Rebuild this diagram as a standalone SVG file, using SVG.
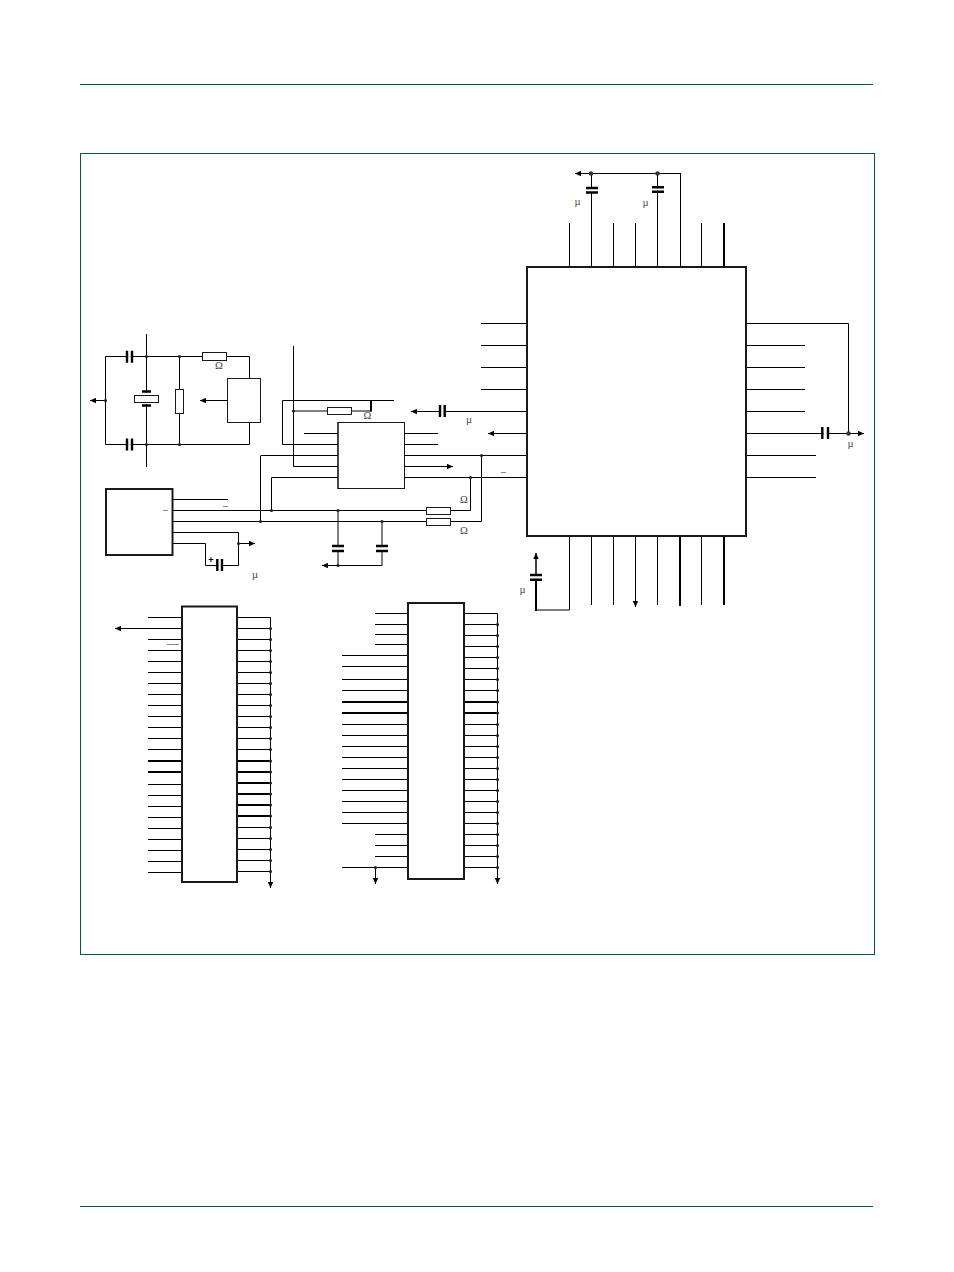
<svg xmlns="http://www.w3.org/2000/svg" width="954" height="1272" viewBox="0 0 954 1272">
<style>
.w{fill:none;stroke:#000;stroke-width:1}
.t{fill:none;stroke:#000;stroke-width:2}
.d{fill:none;stroke:#222;stroke-width:3.2;stroke-linecap:round}
.d2{fill:none;stroke:#333;stroke-width:4.500;stroke-linecap:round}
.b{fill:#fff;stroke:#1a1a1a;stroke-width:1}
.ic{fill:#fff;stroke:#1a1a1a;stroke-width:2}
.p{fill:none;stroke:#000;stroke-width:2.400}
.gap{fill:#fff;stroke:none}
.o{fill:none;stroke:#888;stroke-width:1}
.g{fill:none;stroke:#005a50;stroke-width:1}
text{font-family:"Liberation Serif","Times New Roman",serif;font-size:10.500px;fill:#444;text-anchor:middle}
</style>
<defs>
<marker id="a" markerUnits="userSpaceOnUse" markerWidth="7" markerHeight="6" refX="6" refY="3" orient="auto"><path d="M0 .3L6 3L0 5.700z" fill="#000"/></marker>
</defs>
<g id="page-frame">
<path class="g" d="M80 84.500H873M80 1206.500H873"/>
<rect class="g" x="80.500" y="153.500" width="794" height="801"/>
</g>
<g id="connectors">
<path class="w" d="M569.500 223V267M591.500 173V267M613.500 223V267M635.500 223V267M657.500 173V267M701.500 223V267M680.500 173V267M680.500 173.500H591"/>
<path class="w" marker-end="url(#a)" d="M591 173.500H575"/>
<path class="t" d="M724 223V267"/>
<path class="w" d="M481 323.500H527M481 345.500H527M481 367.500H527M481 389.500H527"/>
<path class="w" marker-end="url(#a)" d="M527 411.500H411"/>
<path class="w" marker-end="url(#a)" d="M527 433.500H488"/>
<path class="w" d="M404 455.500H527M404 477.500H527"/>
<path class="w" d="M746 323.500H848.500V433.500M746 345.500H805M746 367.500H805M746 389.500H805M746 411.500H805M746 455.500H816M746 477.500H816"/>
<path class="w" marker-end="url(#a)" d="M746 433.500H864"/>
<path class="w" d="M569.500 536V610H536.500M591.500 536V605M613.500 536V605M657.500 536V605M701.500 536V605"/>
<path class="w" marker-end="url(#a)" d="M635.500 536V607"/>
<path class="t" d="M680 536V606M724 536V605M536 611V580"/>
<path class="t" marker-end="url(#a)" d="M536 575V553" style="stroke-width:1.500"/>
<path class="w" d="M304 433.500H338M282.500 444.500H338M261 455.500H338M293.500 346V466.500H338M271.500 477.500H338M404 433.500H438M404 444.500H438"/>
<path class="w" d="M282.500 444.500V400.500H394M293.500 411H371"/>
<path class="t" d="M371 411.500V400"/>
<path class="w" marker-end="url(#a)" d="M404 466.500H453"/>
<path class="w" d="M260.500 455.500V521.500M271.500 477.500V510.500M173 510.500H470.500V477.500M173 521.500H481.500V455.500"/>
<path class="w" d="M338 510.500V565.500M382 521.500V565.500"/>
<path class="w" marker-end="url(#a)" d="M382 565.500H322"/>
<path class="w" d="M173 499.500H228M173 532.500H238.500V565.500H217M173 543.500H205.500V565.500H217"/>
<path class="w" marker-end="url(#a)" d="M238.500 543.500H255"/>
<path class="w" d="M105.500 356.500V444.500H249.500V422M105.500 356.500H249.500V378M146.500 334V467M179.500 356.500V444.500"/>
<path class="w" marker-end="url(#a)" d="M105.500 400.500H90"/>
<path class="w" marker-end="url(#a)" d="M227 400.500H200"/>
<path class="w" d="M148 617.500H182M148 639.500H182M148 650.500H182M148 661.500H182M148 672.500H182M148 683.500H182M148 694.500H182M148 705.500H182M148 716.500H182M148 727.500H182M148 738.500H182M148 749.500H182M148 784.500H182M148 795.500H182M148 806.500H182M148 817.500H182M148 828.500H182M148 839.500H182M148 850.500H182M148 861.500H182M148 872.500H182"/>
<path class="w" marker-end="url(#a)" d="M182 628.500H115"/>
<path class="t" d="M148 761H182M148 772H182M237 761H270M237 772H270M237 783H270M237 794H270M237 805H270M237 816H270"/>
<path class="w" d="M237 617.500H270.500M237 628.500H270M237 639.500H270M237 650.500H270M237 661.500H270M237 672.500H270M237 683.500H270M237 694.500H270M237 705.500H270M237 716.500H270M237 727.500H270M237 738.500H270M237 749.500H270M237 827.500H270M237 838.500H270M237 849.500H270M237 860.500H270M237 871.500H270"/>
<path class="w" marker-end="url(#a)" d="M270.500 617.500V888"/>
<path class="w" d="M375 613.500H408M375 624.500H408M375 634.500H408M375 644.500H408M342 655.500H408M342 666.500H408M342 679.500H408M342 690.500H408M342 724.500H408M342 735.500H408M342 746.500H408M342 757.500H408M342 768.500H408M342 779.500H408M342 790.500H408M342 801.500H408M342 812.500H408M342 823.500H408M375 834.500H408M375 845.500H408M375 856.500H408M342 867.500H408"/>
<path class="w" marker-end="url(#a)" d="M375.500 867.500V884"/>
<path class="t" d="M342 702H408M342 713H408M464 702H497M464 713H497"/>
<path class="w" d="M464 613.500H497.500M464 624.500H497M464 635.500H497M464 646.500H497M464 657.500H497M464 668.500H497M464 679.500H497M464 690.500H497M464 724.500H497M464 735.500H497M464 746.500H497M464 757.500H497M464 768.500H497M464 779.500H497M464 790.500H497M464 801.500H497M464 812.500H497M464 823.500H497M464 834.500H497M464 845.500H497M464 856.500H497M464 867.500H497"/>
<path class="w" marker-end="url(#a)" d="M497.500 613.500V884"/>
<path class="d2" d="M591 173.500h0M657.500 173.500h0M848.500 433.500h0"/>
<path class="d" d="M105.500 400.500h0M146.500 356.500h0M146.500 444.500h0M179.500 356.500h0M179.500 444.500h0M293.500 411h0M481.500 455.500h0M470.500 477.500h0M260.500 521.500h0M271.500 510.500h0M338 510.500h0M382 521.500h0M338 565.500h0M238.500 543.500h0M375.500 867.500h0"/>
<path class="d" d="M270.500 628.500h0M270.500 639.500h0M270.500 650.500h0M270.500 661.500h0M270.500 672.500h0M270.500 683.500h0M270.500 694.500h0M270.500 705.500h0M270.500 716.500h0M270.500 727.500h0M270.500 738.500h0M270.500 749.500h0M270.500 761h0M270.500 772h0M270.500 783h0M270.500 794h0M270.500 805h0M270.500 816h0M270.500 827.500h0M270.500 838.500h0M270.500 849.500h0M270.500 860.500h0M270.500 871.500h0"/>
<path class="d" d="M497.500 624.500h0M497.500 635.500h0M497.500 646.500h0M497.500 657.500h0M497.500 668.500h0M497.500 679.500h0M497.500 690.500h0M497.500 702h0M497.500 713h0M497.500 724.500h0M497.500 735.500h0M497.500 746.500h0M497.500 757.500h0M497.500 768.500h0M497.500 779.500h0M497.500 790.500h0M497.500 801.500h0M497.500 812.500h0M497.500 823.500h0M497.500 834.500h0M497.500 845.500h0M497.500 856.500h0M497.500 867.500h0"/>
</g>
<g id="main-ic"><rect class="ic" x="527" y="267" width="219" height="269"/></g>
<g id="interface-ic"><rect class="b" x="338" y="422.500" width="66.500" height="66"/><path class="w" d="M338 422V489"/></g>
<g id="block-left"><rect class="ic" x="106" y="489" width="66.500" height="66"/></g>
<g id="clock-block"><rect class="b" x="227.500" y="378.500" width="33" height="44"/></g>
<g id="memory-left"><rect class="ic" x="182" y="606.500" width="55" height="275.500"/></g>
<g id="memory-right"><rect class="ic" x="408" y="603" width="56" height="276"/></g>
<g id="crystal">
<path class="gap" d="M144 392.700h5v2.800h-5zM144 402.500h5v1.800h-5z"/>
<rect class="b" x="134.500" y="395.500" width="24" height="7"/>
<path class="p" d="M142 391.500H151M142 405.500H151"/>
</g>
<g id="resistors">
<rect class="b" x="202.500" y="352.500" width="24" height="8"/>
<rect class="b" x="175.500" y="389.500" width="8" height="24"/>
<rect class="b" x="327.500" y="407.500" width="24" height="7"/>
<rect class="b" x="426.500" y="507.500" width="24" height="7"/>
<rect class="b" x="426.500" y="518.500" width="24" height="7"/>
</g>
<g id="capacitors">
<path class="gap" d="M589 189h5v3h-5zM655 188.300h5v2.500h-5zM441 409h3v5h-3zM823.500 431h3.300v5h-3.300zM128.200 354h2.600v5h-2.600zM128.200 442h2.600v5h-2.600zM218.500 563h2.300v5h-2.300zM533 576h6v2.500h-6zM335 547h6v3h-6zM379 547h6v3h-6z"/>
<path class="p" d="M586 188H598M586 192.500H598M652 187.300H664M652 191.700H664M440 405V417M444.700 405V417M822.300 427V439M828 427V439M127 350.700V362.700M132 350.700V362.700M127 438.500V450.500M132 438.500V450.500M217.300 559V571M222 559V571M530 575H542M530 579.700H542M332 546H344M332 551H344M376 546H388M376 551H388"/>
</g>
<g id="overbars">
<path class="o" d="M163 510.500H168M223 506.500H228M167 644.500H179M501 472.500H506"/>
</g>
<g id="labels">
<text x="577.500" y="204.500">µ</text>
<text x="645.500" y="205.500">µ</text>
<text x="469" y="422.500">µ</text>
<text x="850.500" y="446.500">µ</text>
<text x="522.500" y="592.500">µ</text>
<text x="255" y="577.500">µ</text>
<text x="219" y="369">Ω</text>
<text x="367.500" y="419">Ω</text>
<text x="464" y="503">Ω</text>
<text x="464" y="534">Ω</text>
<text x="211" y="563" style="fill:#000;font-family:'Liberation Sans',sans-serif;font-weight:bold;font-size:9px">+</text>
</g>
</svg>
